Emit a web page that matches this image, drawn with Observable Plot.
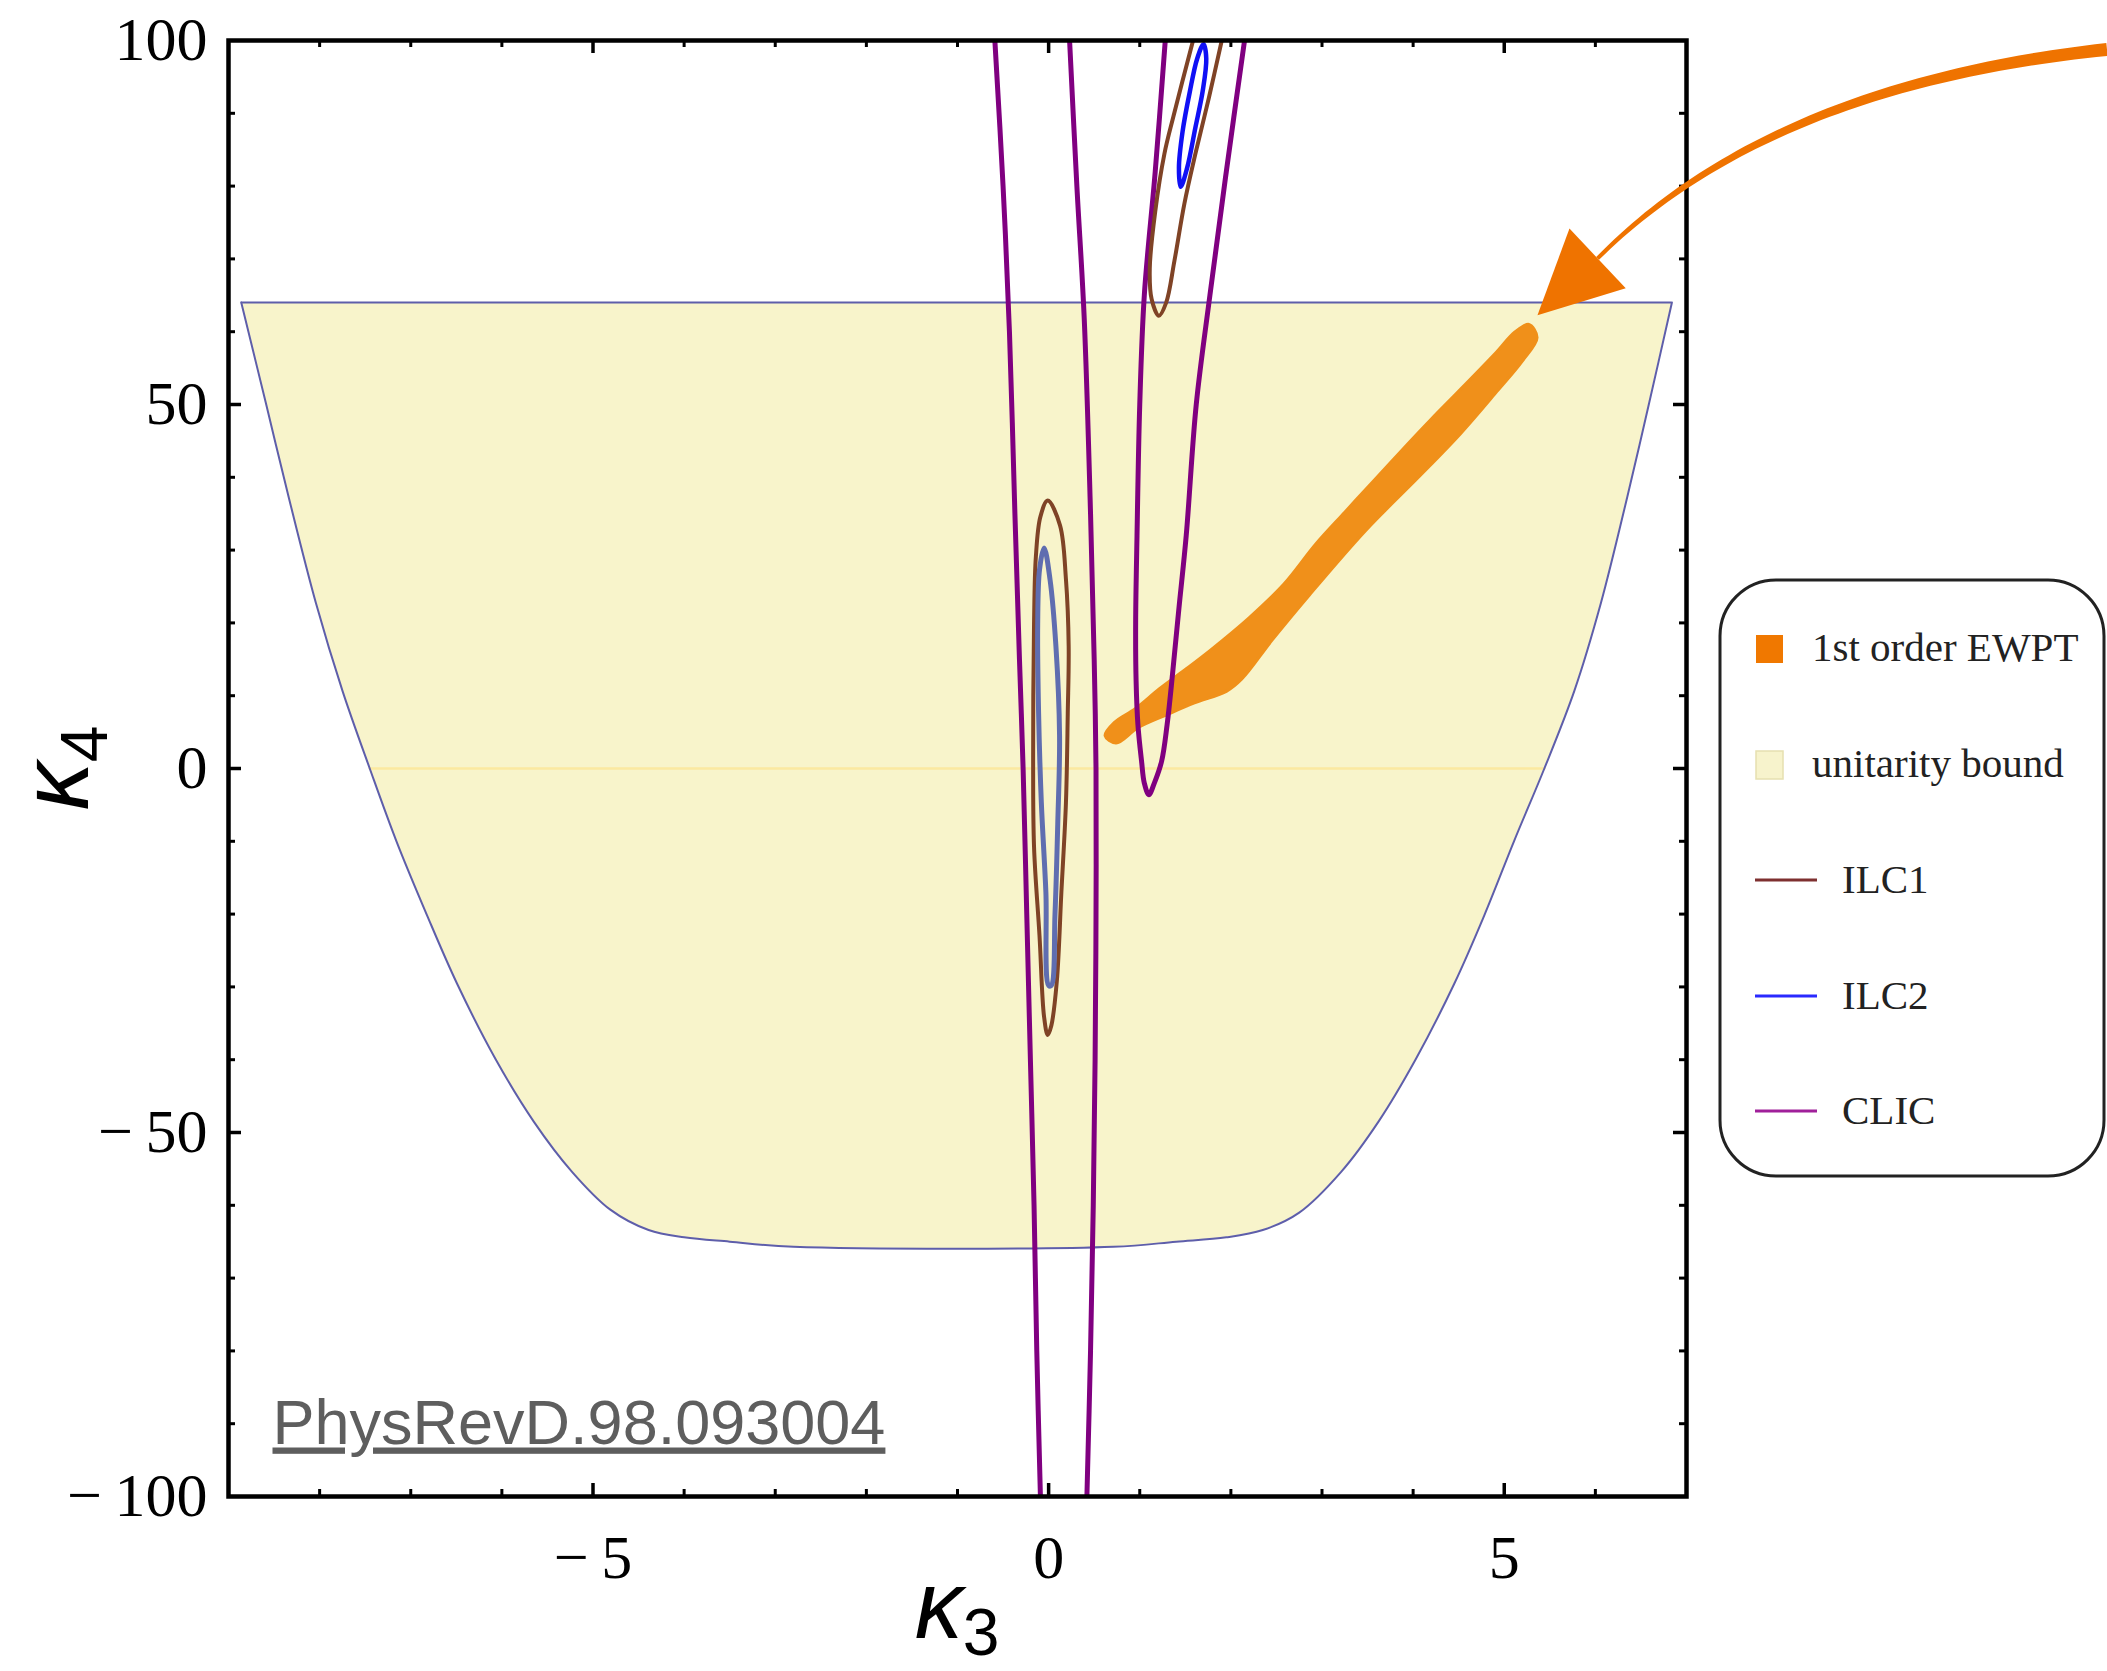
<!DOCTYPE html>
<html><head><meta charset="utf-8">
<script src="https://cdn.jsdelivr.net/npm/d3@7"></script>
<script src="https://cdn.jsdelivr.net/npm/@observablehq/plot@0.6"></script>
<style>
html,body{margin:0;padding:0;background:#fff;}
#chart{position:relative;width:2107px;height:1671px;overflow:hidden;}
</style></head><body><div id="chart"></div>
<script>
// ---------- data (κ3, κ4) ----------
const xMajor = [-5, 0, 5];
const xMinor = [-8, -7, -6, -4, -3, -2, -1, 1, 2, 3, 4, 6];
const yMajor = [-100, -50, 0, 50, 100];
const yInnerMajor = [-50, 0, 50];
const yMinor = [-90, -80, -70, -60, -40, -30, -20, -10, 10, 20, 30, 40, 60, 70, 80, 90];

const unitarityTop = 64;
const unitarityBoundary = [
  [-8.86, 64], [-8.59, 50.2], [-8.34, 37.3], [-8.04, 22.7], [-7.75, 10.7], [-7.45, 0],
  [-7.16, -9.9], [-6.82, -20.2], [-6.49, -29.6], [-6.07, -39.9], [-5.65, -48.5], [-5.23, -55.4],
  [-4.81, -60.6], [-4.39, -63.4], [-4.0, -64.4], [-3.5, -65.0], [-2.8, -65.7], [0.71, -65.7],
  [1.4, -65.0], [1.95, -64.4], [2.35, -63.4], [2.75, -61.0], [3.21, -55.4], [3.62, -48.5],
  [4.03, -39.9], [4.45, -29.6], [4.78, -20.2], [5.11, -9.9], [5.44, 0], [5.77, 10.7],
  [6.06, 22.7], [6.35, 37.3], [6.59, 50.2], [6.84, 64]
];
const unitaritySeam = [[-7.45, 0], [5.44, 0]];

const ewptBand = [
  [0.62, 4.5], [0.72, 6.3], [0.95, 8.2], [1.22, 11.0], [1.50, 13.6], [1.78, 16.3], [2.20, 20.7],
  [2.58, 25.3], [2.93, 30.8], [3.25, 35.2], [3.55, 39.3], [3.92, 44.3], [4.20, 48.0], [4.49, 51.7],
  [4.90, 57.0], [5.12, 60.0], [5.27, 61.0],
  [5.36, 59.2], [5.20, 56.0], [4.92, 51.8], [4.52, 46.0], [4.05, 39.9], [3.48, 32.7], [2.86, 23.8],
  [2.45, 17.6], [2.12, 12.3], [1.95, 10.6], [1.60, 9.0], [1.30, 7.4], [0.98, 5.6], [0.74, 3.5]
];

const ilc1Lower = [
  [-0.01, 36.8], [0.125, 33.4], [0.19, 26.0], [0.22, 16.8], [0.21, 7.6], [0.19, -4.7], [0.14, -17],
  [0.09, -29.2], [0.03, -35.3], [-0.01, -36.6], [-0.05, -34.1], [-0.10, -23], [-0.16, -10.8],
  [-0.17, 1.5], [-0.16, 19.9], [-0.14, 29.1], [-0.09, 34.6]
];
const ilc1Upper = [
  [1.585, 100], [1.37, 89.6], [1.27, 84.4], [1.17, 76.5], [1.11, 68.7], [1.13, 64.5], [1.21, 62.2],
  [1.29, 64], [1.38, 69.7], [1.49, 77.6], [1.61, 84.4], [1.76, 92.2], [1.90, 100]
];
const ilc2Lower = [
  [-0.05, 30.3], [0.015, 26], [0.08, 16.8], [0.12, 4.5], [0.10, -7.7], [0.07, -20], [0.03, -29.8],
  [0.0, -29.8], [-0.03, -17], [-0.08, -4.7], [-0.11, 7.6], [-0.12, 19.9], [-0.10, 27.3]
];
const ilc2Upper = [
  [1.70, 99.5], [1.73, 97.5], [1.69, 93.0], [1.61, 88.0], [1.52, 82.5], [1.45, 79.9],
  [1.43, 82.5], [1.47, 87.5], [1.55, 93.0], [1.63, 97.5]
];
const clicBandLeft = [
  [-0.59, 100], [-0.50, 80], [-0.43, 60], [-0.37, 35], [-0.32, 15], [-0.28, 0], [-0.24, -20],
  [-0.20, -40], [-0.16, -60], [-0.13, -80], [-0.09, -100]
];
const clicBandRight = [
  [0.23, 100], [0.31, 80], [0.39, 62], [0.46, 35], [0.50, 15], [0.52, 0], [0.52, -20],
  [0.51, -40], [0.49, -60], [0.46, -80], [0.42, -100]
];
const clicV = [
  [1.28, 100], [1.17, 82], [1.05, 65], [1.00, 50], [0.97, 32], [0.955, 20], [0.96, 12], [0.98, 6],
  [1.02, 1], [1.05, -2], [1.10, -3.6], [1.16, -2], [1.24, 1], [1.30, 6], [1.36, 13], [1.43, 22],
  [1.51, 32], [1.62, 50], [1.77, 65], [1.95, 82], [2.15, 100]
];

// annotation arrow (κ3, κ4): tail, control, head base, tip
const arrowTail = [11.62, 98.7];
const arrowControl = [7.92, 93.8];
const arrowBase = [6.03, 70.0];
const arrowTip = [5.37, 62.2];

const legendLabels = ["1st order EWPT", "unitarity bound", "ILC1", "ILC2", "CLIC"];
const legendColors = ["#f07800", "#f7f3cc", "#7e3030", "#2a2aff", "#a0209a"];
const legendKinds = ["square", "square", "line", "line", "line"];

// ---------- colours ----------
const cYellow = "#f8f4cb", cEdge = "#5e5eaa", cOrange = "#f0901a";
const cPurple = "#800080", cBrown = "#7f4326", cBlue = "#1010f5", cSlate = "#5f6db0";

const pts = a => a.map(([k3, k4]) => ({k3, k4}));
const fmt = d => d < 0 ? "\u2212\u2009" + (-d) : String(d);

const W = 2107, H = 1671;
const mL = 228, mR = 421, mT = 40, mB = 175;
const frameW = W - mL - mR, frameH = H - mT - mB;

const contour = (a, stroke, closed, sw) => Plot.line(pts(a), {
  x: "k3", y: "k4", stroke, strokeWidth: sw, clip: true,
  curve: closed ? "catmull-rom-closed" : "catmull-rom"
});

const uFirst = unitarityBoundary[0], uLast = unitarityBoundary[unitarityBoundary.length - 1];

const plot = Plot.plot({
  width: W, height: H,
  marginLeft: mL, marginRight: mR, marginTop: mT, marginBottom: mB,
  x: {domain: [-9, 7]},
  y: {domain: [-100, 100]},
  style: {fontFamily: "'Liberation Serif', 'Times New Roman', serif", fontSize: "62px", color: "black", background: "white"},
  marks: [
    Plot.areaY(pts(unitarityBoundary), {x: "k3", y1: "k4", y2: unitarityTop, fill: cYellow, curve: "catmull-rom"}),
    Plot.line(pts(unitaritySeam), {x: "k3", y: "k4", stroke: "#fbe9a0", strokeWidth: 2.5}),
    Plot.line(pts(unitarityBoundary), {x: "k3", y: "k4", stroke: cEdge, strokeWidth: 2, curve: "catmull-rom"}),
    Plot.ruleY([unitarityTop], {x1: uFirst[0], x2: uLast[0], stroke: cEdge, strokeWidth: 2}),
    Plot.line(pts(ewptBand), {x: "k3", y: "k4", fill: cOrange, stroke: cOrange, strokeWidth: 3,
      strokeLinejoin: "round", curve: "catmull-rom-closed"}),
    contour(clicBandLeft, cPurple, false, 5),
    contour(clicBandRight, cPurple, false, 5),
    contour(clicV, cPurple, false, 5),
    contour(ilc1Lower, cBrown, true, 4),
    contour(ilc1Upper, cBrown, false, 4),
    contour(ilc2Lower, cSlate, true, 5),
    contour(ilc2Upper, cBlue, true, 4.5),
    Plot.text(["PhysRevD.98.093004"], {text: d => d, frameAnchor: "bottom-left", dx: 44, dy: -53,
      textAnchor: "start", lineAnchor: "bottom", fontFamily: "'Liberation Sans', Arial, sans-serif",
      fontSize: 63, fill: "#5e5e5e", className: "doi-link"}),
    // inward ticks on all four sides
    Plot.tickX(xMinor, {x: d => d, insetBottom: frameH - 7, stroke: "black", strokeWidth: 3}),
    Plot.tickX(xMinor, {x: d => d, insetTop: frameH - 7, stroke: "black", strokeWidth: 3}),
    Plot.tickX(xMajor, {x: d => d, insetBottom: frameH - 13, stroke: "black", strokeWidth: 3.5}),
    Plot.tickX(xMajor, {x: d => d, insetTop: frameH - 13, stroke: "black", strokeWidth: 3.5}),
    Plot.tickY(yMinor, {y: d => d, insetRight: frameW - 7, stroke: "black", strokeWidth: 3}),
    Plot.tickY(yMinor, {y: d => d, insetLeft: frameW - 7, stroke: "black", strokeWidth: 3}),
    Plot.tickY(yInnerMajor, {y: d => d, insetRight: frameW - 13, stroke: "black", strokeWidth: 3.5}),
    Plot.tickY(yInnerMajor, {y: d => d, insetLeft: frameW - 13, stroke: "black", strokeWidth: 3.5}),
    Plot.frame({stroke: "black", strokeWidth: 4.5}),
    Plot.axisX({ticks: xMajor, tickSize: 0, tickPadding: 37, tickFormat: fmt, label: null, fontSize: 62}),
    Plot.axisY({ticks: yMajor, tickSize: 0, tickPadding: 21, tickFormat: fmt, label: null, fontSize: 62})
  ]
});

document.getElementById("chart").appendChild(plot);

const svg = d3.select(plot);
svg.selectAll(".doi-link text").style("text-decoration", "underline");

const sx = plot.scale("x"), sy = plot.scale("y");
const P = ([a, b]) => [sx.apply(a), sy.apply(b)];

// ---------- axis labels κ3 / κ4 ----------
const sansIt = "'Liberation Sans', Arial, sans-serif";
const xl = svg.append("text")
  .attr("x", (mL + W - mR) / 2).attr("y", 1638)
  .attr("text-anchor", "middle").attr("font-family", sansIt).attr("fill", "black");
xl.append("tspan").attr("font-style", "italic").attr("font-size", 96).text("κ");
xl.append("tspan").attr("font-size", 66).attr("dy", 17).text("3");

const yl = svg.append("text")
  .attr("transform", `translate(88,${(mT + H - mB) / 2}) rotate(-90)`)
  .attr("text-anchor", "middle").attr("font-family", sansIt).attr("fill", "black");
yl.append("tspan").attr("font-style", "italic").attr("font-size", 96).text("κ");
yl.append("tspan").attr("font-size", 66).attr("dy", 19).text("4");

// ---------- arrow annotation ----------
{
  const p0 = P(arrowTail), c = P(arrowControl), b = P(arrowBase), tip = P(arrowTip);
  const q = t => [
    (1 - t) * (1 - t) * p0[0] + 2 * (1 - t) * t * c[0] + t * t * b[0],
    (1 - t) * (1 - t) * p0[1] + 2 * (1 - t) * t * c[1] + t * t * b[1]
  ];
  const dq = t => [
    2 * (1 - t) * (c[0] - p0[0]) + 2 * t * (b[0] - c[0]),
    2 * (1 - t) * (c[1] - p0[1]) + 2 * t * (b[1] - c[1])
  ];
  const left = [], right = [];
  const N = 60;
  for (let i = 0; i <= N; i++) {
    const t = i / N, [x, y] = q(t), [dx, dy] = dq(t);
    const len = Math.hypot(dx, dy), nx = -dy / len, ny = dx / len;
    const w = (13 * (1 - t) + 4 * t) / 2;
    left.push([x + nx * w, y + ny * w]);
    right.push([x - nx * w, y - ny * w]);
  }
  const shaft = [...left, ...right.reverse()];
  svg.append("path").attr("d", "M" + shaft.map(p => p.join(",")).join("L") + "Z").attr("fill", "#ef7300");
  const hx = tip[0] - b[0], hy = tip[1] - b[1], hl = Math.hypot(hx, hy);
  const nx = -hy / hl, ny = hx / hl, hw = 41;
  const head = [tip, [b[0] + nx * hw, b[1] + ny * hw], [b[0] - nx * hw, b[1] - ny * hw]];
  svg.append("path").attr("d", "M" + head.map(p => p.join(",")).join("L") + "Z").attr("fill", "#ef7300");
}

// ---------- legend ----------
{
  const g = svg.append("g").attr("text-anchor", "start");
  g.append("rect").attr("x", 1720).attr("y", 580).attr("width", 384).attr("height", 596)
    .attr("rx", 56).attr("ry", 56).attr("fill", "white").attr("stroke", "#222").attr("stroke-width", 3);
  const rowY = [649, 765, 880, 996, 1111];
  legendLabels.forEach((lab, i) => {
    const y = rowY[i];
    if (legendKinds[i] === "square") {
      g.append("rect").attr("x", 1756).attr("y", y - 14).attr("width", 27).attr("height", 28)
        .attr("fill", legendColors[i]).attr("stroke", i === 1 ? "#e6e0b0" : "none").attr("stroke-width", 1.5);
      g.append("text").attr("x", 1812).attr("y", y + 12).attr("text-anchor", "start")
        .attr("font-family", "'Liberation Serif', serif")
        .attr("font-size", 41).attr("fill", "#222").text(lab);
    } else {
      g.append("line").attr("x1", 1755).attr("x2", 1817).attr("y1", y).attr("y2", y)
        .attr("stroke", legendColors[i]).attr("stroke-width", 3);
      g.append("text").attr("x", 1842).attr("y", y + 13).attr("text-anchor", "start")
        .attr("font-family", "'Liberation Serif', serif")
        .attr("font-size", 41).attr("fill", "#222").text(lab);
    }
  });
}
</script></body></html>
